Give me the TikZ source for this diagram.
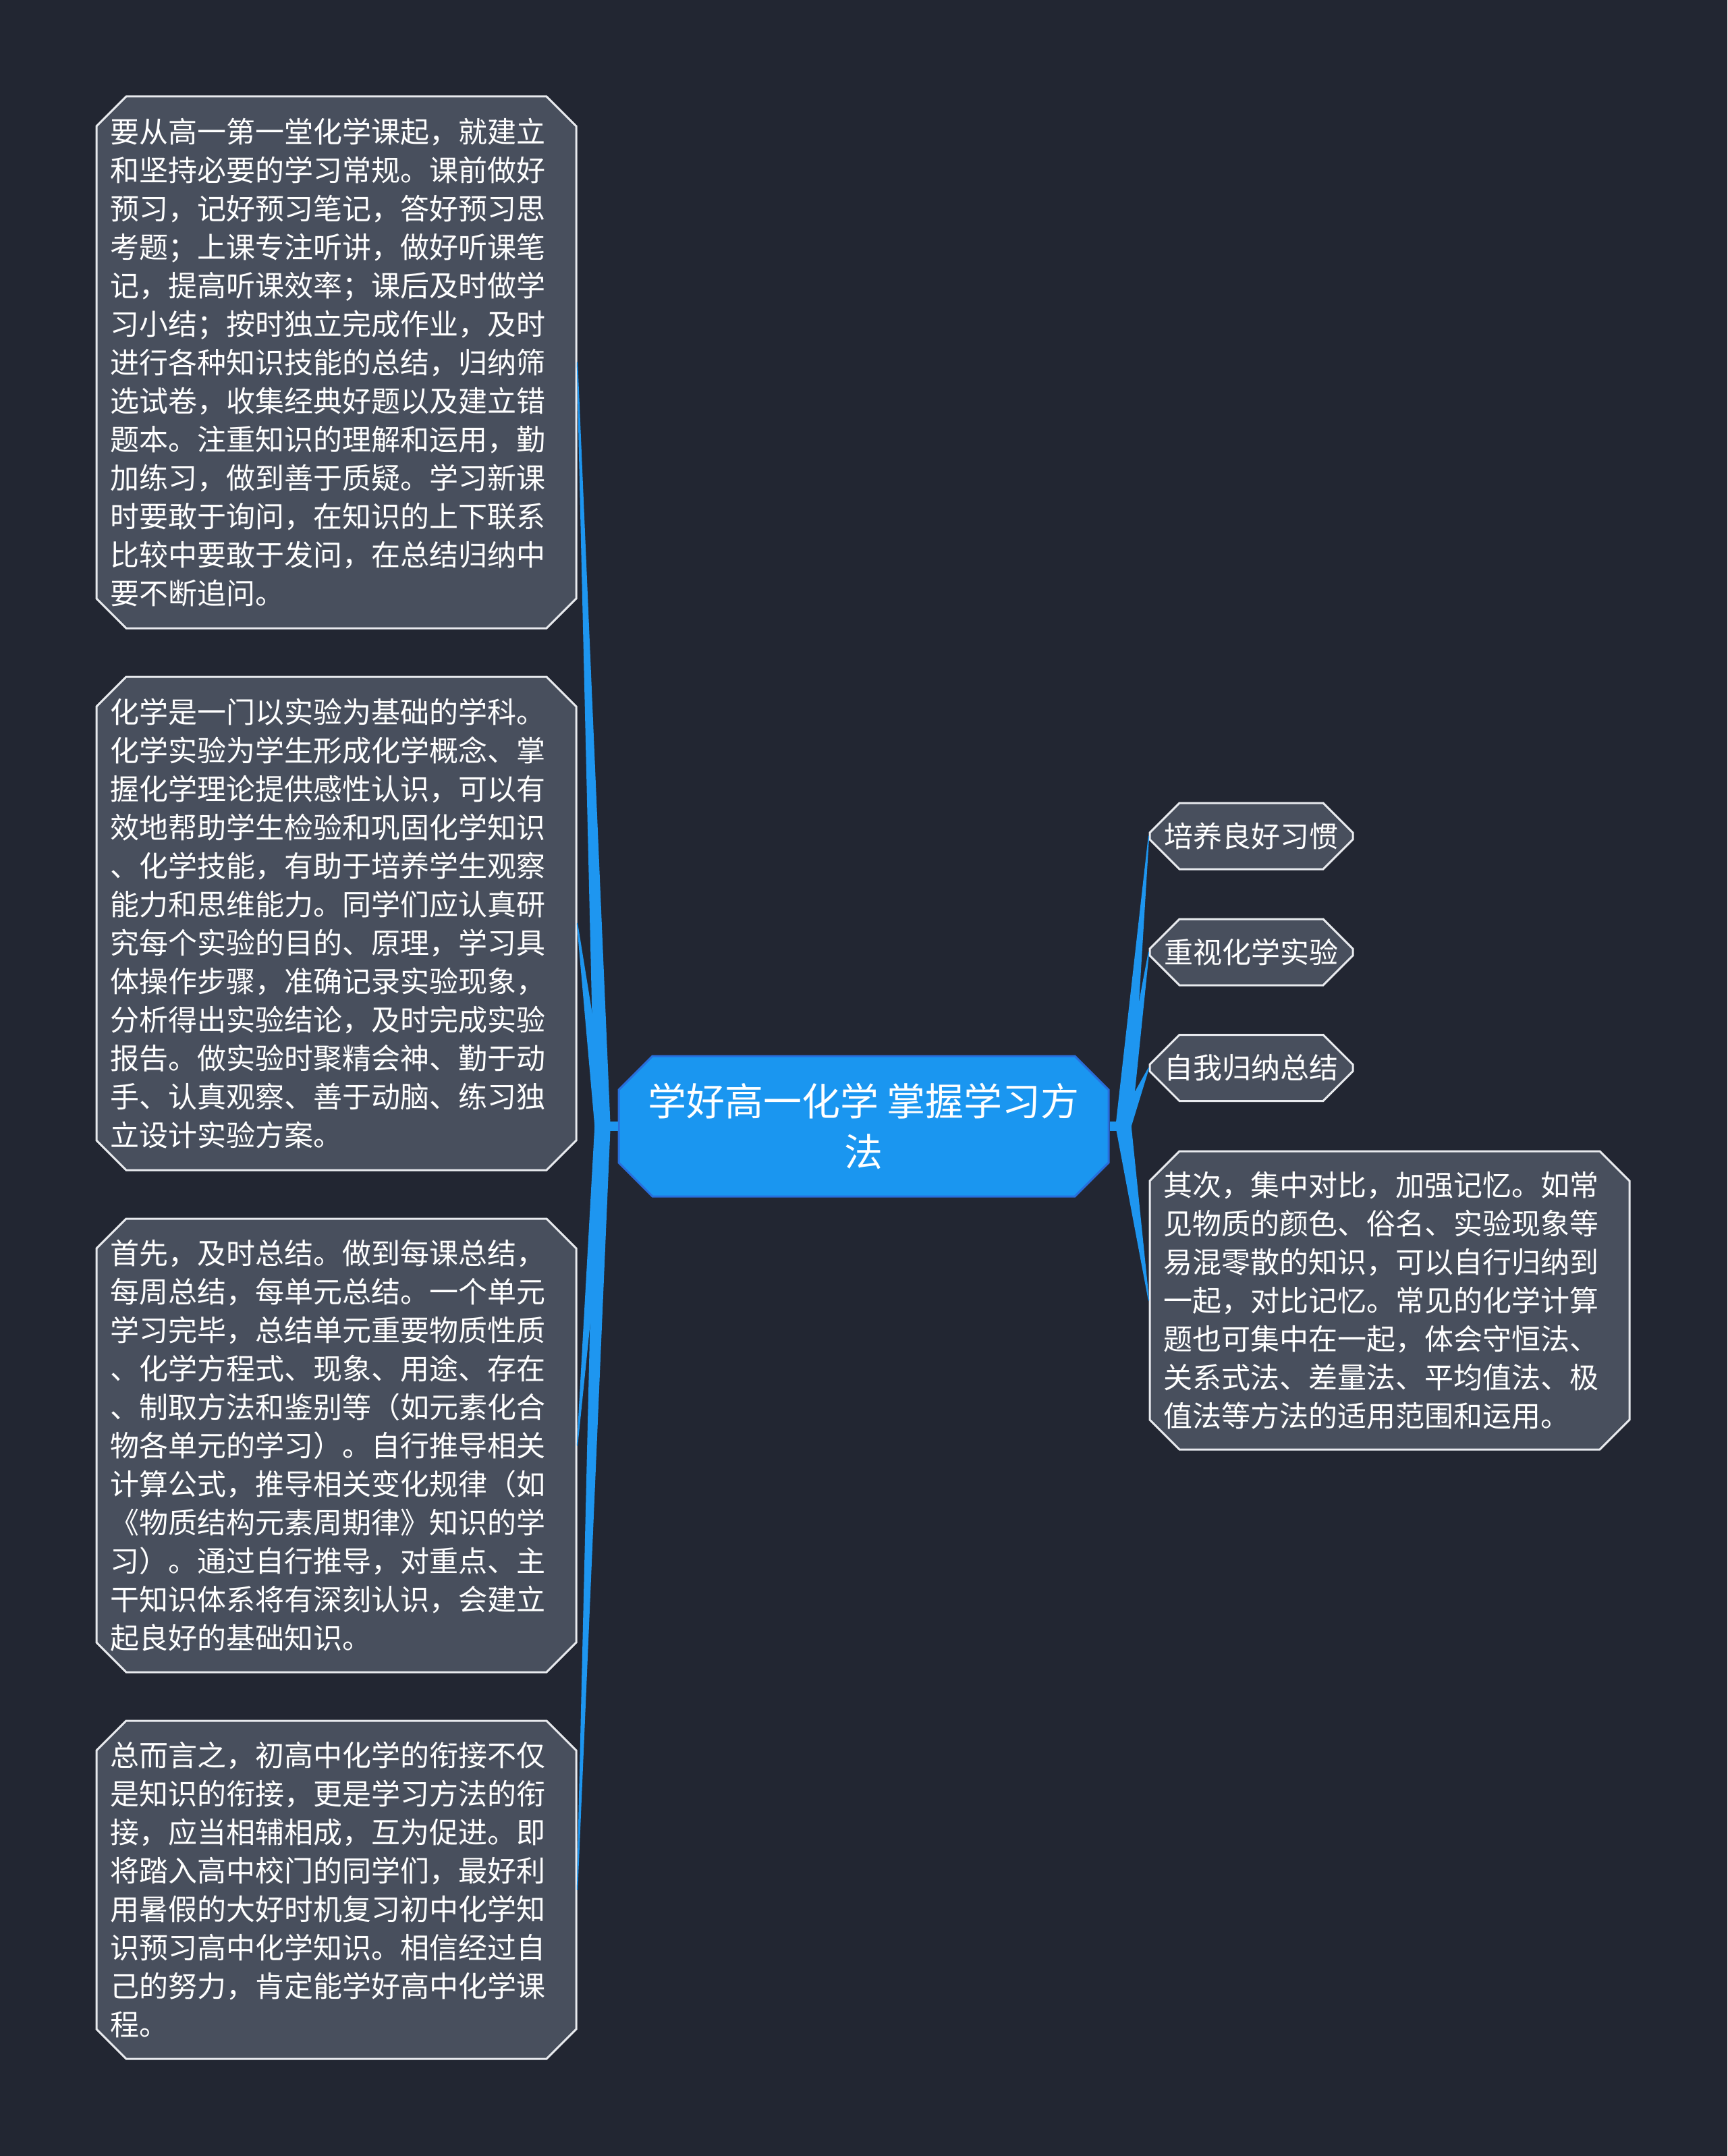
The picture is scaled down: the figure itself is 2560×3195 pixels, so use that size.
\documentclass[tikz,border=0pt]{standalone}
\usepackage{fontspec}
\usepackage{xcolor}
\usetikzlibrary{shapes.misc, calc}
\newfontfamily\cjk{Noto Sans CJK SC}
\definecolor{cBack}{RGB}{34,38,50}
\definecolor{cBox}{RGB}{72,79,93}
\definecolor{cEdge}{RGB}{232,234,238}
\definecolor{cRoot}{RGB}{26,150,240}
\definecolor{cRootEdge}{RGB}{40,110,220}
\definecolor{cLink}{RGB}{30,150,240}
\tikzset{
	topic/.style={chamfered rectangle, chamfered rectangle xsep=9pt, chamfered rectangle ysep=13pt, draw=cEdge, line width=1.5pt, fill=cBox, text=white, font=\cjk\fontsize{21.5pt}{28.5pt}\selectfont, inner xsep=1pt, inner ysep=0pt},
	notebox/.style={topic, text width=335.5pt, align=left},
	leafbox/.style={topic, minimum width=150.5pt, minimum height=49pt, align=center},
	rootbox/.style={chamfered rectangle, chamfered rectangle xsep=9pt, chamfered rectangle ysep=16pt, draw=cRootEdge, line width=1.5pt, fill=cRoot, text=white, font=\cjk\fontsize{28.5pt}{37.5pt}\selectfont, align=center, minimum width=363pt, minimum height=104pt},
	linkfill/.style={fill=cLink, draw=cLink, line width=0.7pt, line join=round},
	linkbar/.style={draw=cLink, line width=7pt},
}
% tapered branch from a hub to a box side
\newcommand{\branch}[2]{\path[linkfill] ($(#1)+(11,0)$) -- (#2) -- ($(#1)+(-11,0)$) -- cycle;}

\begin{document}
\begin{tikzpicture}[x=0.5pt, y=-0.5pt]
	\fill[cBack] (0,0) rectangle (2560,3195);
	\node[rootbox] (root) at (1280,1669) {学好高一化学 掌握学习方\\法};
	% right side
	\node[leafbox] (habit) at (1854.5,1239) {培养良好习惯};
	\node[leafbox] (lab) at (1854.5,1411) {重视化学实验};
	\node[leafbox] (recap) at (1854.5,1582.5) {自我归纳总结};
	\node[notebox, minimum height=221pt] (compare) at (2059.5,1927) {其次，集中对比，加强记忆。如常\\见物质的颜色、俗名、实验现象等\\易混零散的知识，可以自行归纳到\\一起，对比记忆。常见的化学计算\\题也可集中在一起，体会守恒法、\\关系式法、差量法、平均值法、极\\值法等方法的适用范围和运用。};
	% left side
	\node[notebox, minimum height=394pt] (habitnote) at (498.5,537) {要从高一第一堂化学课起，就建立\\和坚持必要的学习常规。课前做好\\预习，记好预习笔记，答好预习思\\考题；上课专注听讲，做好听课笔\\记，提高听课效率；课后及时做学\\习小结；按时独立完成作业，及时\\进行各种知识技能的总结，归纳筛\\选试卷，收集经典好题以及建立错\\题本。注重知识的理解和运用，勤\\加练习，做到善于质疑。学习新课\\时要敢于询问，在知识的上下联系\\比较中要敢于发问，在总结归纳中\\要不断追问。};
	\node[notebox, minimum height=365.5pt] (labnote) at (498.5,1368.5) {化学是一门以实验为基础的学科。\\化学实验为学生形成化学概念、掌\\握化学理论提供感性认识，可以有\\效地帮助学生检验和巩固化学知识\\、化学技能，有助于培养学生观察\\能力和思维能力。同学们应认真研\\究每个实验的目的、原理，学习具\\体操作步骤，准确记录实验现象，\\分析得出实验结论，及时完成实验\\报告。做实验时聚精会神、勤于动\\手、认真观察、善于动脑、练习独\\立设计实验方案。};
	\node[notebox, minimum height=336pt] (recapnote) at (498.5,2142) {首先，及时总结。做到每课总结，\\每周总结，每单元总结。一个单元\\学习完毕，总结单元重要物质性质\\、化学方程式、现象、用途、存在\\、制取方法和鉴别等（如元素化合\\物各单元的学习）。自行推导相关\\计算公式，推导相关变化规律（如\\《物质结构元素周期律》知识的学\\习）。通过自行推导，对重点、主\\干知识体系将有深刻认识，会建立\\起良好的基础知识。};
	\node[notebox, minimum height=250.5pt] (endnote) at (498.5,2800.5) {总而言之，初高中化学的衔接不仅\\是知识的衔接，更是学习方法的衔\\接，应当相辅相成，互为促进。即\\将踏入高中校门的同学们，最好利\\用暑假的大好时机复习初中化学知\\识预习高中化学知识。相信经过自\\己的努力，肯定能学好高中化学课\\程。};
	\coordinate (lhub) at (893,1669);
	\coordinate (rhub) at (1665,1669);
	\draw[linkbar] (lhub) -- (root.west);
	\draw[linkbar] (rhub) -- (root.east);
	\branch{lhub}{habitnote.east}
	\branch{lhub}{labnote.east}
	\branch{lhub}{recapnote.east}
	\branch{lhub}{endnote.east}
	\branch{rhub}{habit.west}
	\branch{rhub}{lab.west}
	\branch{rhub}{recap.west}
	\branch{rhub}{compare.west}
\end{tikzpicture}
\end{document}
